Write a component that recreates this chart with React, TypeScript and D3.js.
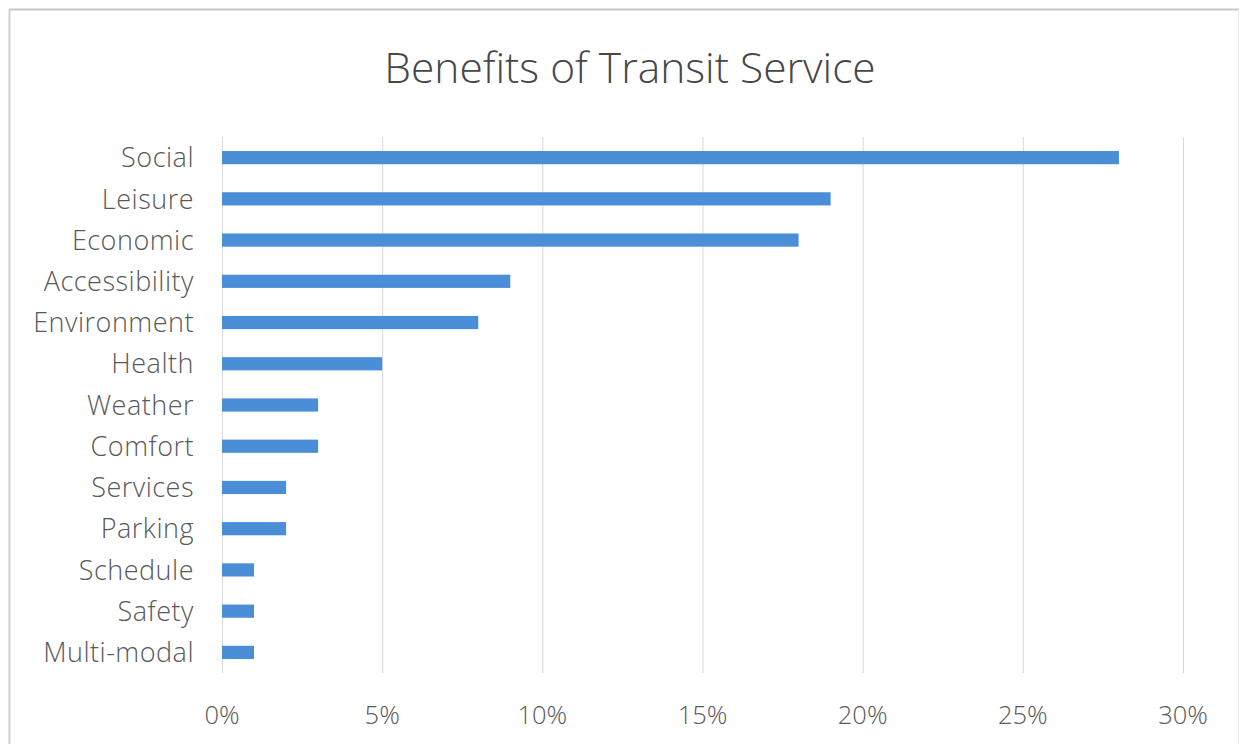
import React from "react";
import * as d3 from "d3";

const categories = ["Social", "Leisure", "Economic", "Accessibility", "Environment", "Health", "Weather", "Comfort", "Services", "Parking", "Schedule", "Safety", "Multi-modal"];
const values = [28, 19, 18, 9, 8, 5, 3, 3, 2, 2, 1, 1, 1];
const tickValues = [0, 5, 10, 15, 20, 25, 30];
const title = "Benefits of Transit Service";

const W = 1244;
const H = 748;
const plotLeft = 222;
const plotRight = 1183;
const plotTop = 137;
const plotBottom = 673;

export default function App() {
  const x = d3.scaleLinear().domain([0, 30]).range([plotLeft, plotRight]);
  const y = d3.scaleBand<string>().domain(categories).range([plotTop, plotBottom]).paddingInner(0.68).paddingOuter(0.34);
  const font = "'Open Sans', 'Noto Sans', sans-serif";
  return (
    <svg width={W} height={H} style={{ position: "absolute", left: 0, top: 0, background: "#fff" }}>
      <rect x={0} y={0} width={W} height={H} fill="#fff" />
      <line x1={9} y1={9.5} x2={1239} y2={9.5} stroke="#c8c8c8" strokeWidth={2} />
      <line x1={9.5} y1={9} x2={9.5} y2={744} stroke="#d0d0d0" strokeWidth={2} />
      <line x1={1238.5} y1={9} x2={1238.5} y2={744} stroke="#ececec" strokeWidth={1} />
      <text x={630} y={83} textAnchor="middle" fontFamily={font} fontSize={42.5} fill="#474747" fontWeight={300}>{title}</text>
      {tickValues.map((t) => (
        <g key={t}>
          {t > 0 && <line x1={x(t) + 0.5} x2={x(t) + 0.5} y1={plotTop} y2={plotBottom} stroke="#d9d9d9" strokeWidth={1} />}
          <text x={x(t)} y={724} textAnchor="middle" fontFamily={font} fontSize={25.5} fill="#595959" fontWeight={300}>{t}%</text>
        </g>
      ))}
      <line x1={plotLeft + 0.5} x2={plotLeft + 0.5} y1={plotTop} y2={plotBottom} stroke="#d9d9d9" strokeWidth={1} />
      {categories.map((c, i) => (
        <g key={c}>
          <rect x={x(0)} y={y(c)} width={x(values[i]) - x(0)} height={y.bandwidth()} fill="#4a8ed8" />
          <text x={194} y={(y(c) as number) + y.bandwidth() / 2} dy="0.36em" textAnchor="end" fontFamily={font} fontSize={27} letterSpacing={0.5} fill="#595959" fontWeight={300}>{c}</text>
        </g>
      ))}
    </svg>
  );
}
